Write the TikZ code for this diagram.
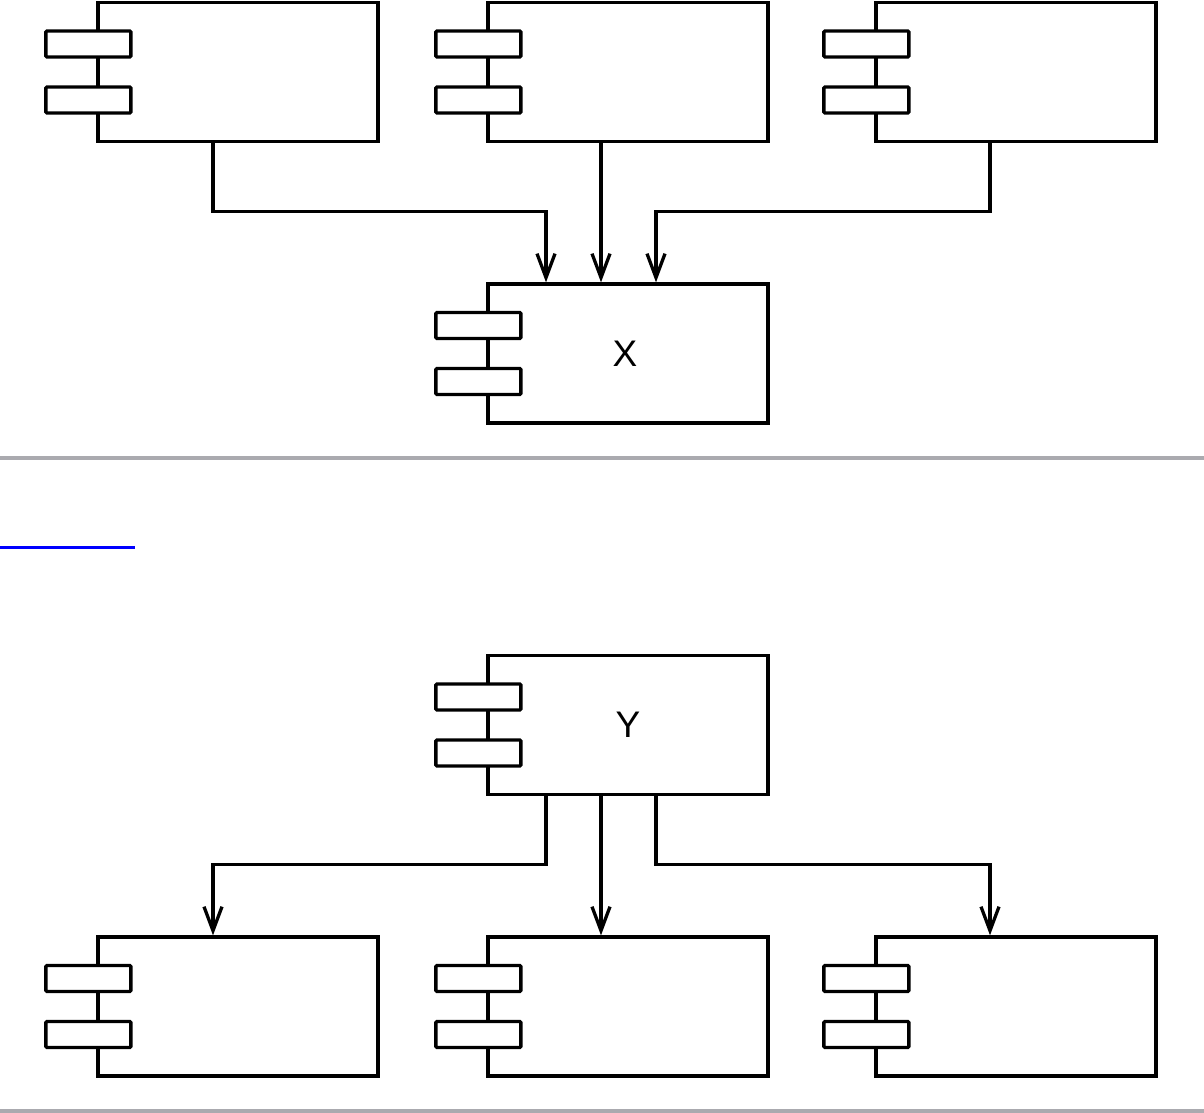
\documentclass[tikz,border=0pt]{standalone}
\usepackage{fontspec}
\setmainfont{Liberation Sans}
\usetikzlibrary{arrows.meta, positioning}

\definecolor{rulegray}{RGB}{170,170,175}

\tikzset{
  comp/.style={draw, line width=3.3pt, minimum width=280pt, minimum height=139pt,
               inner sep=0pt, font=\fontsize{37}{40}\selectfont},
  port/.style={draw, fill=white, line width=3.3pt, rounded corners=1pt,
               minimum width=85pt, minimum height=26pt, inner sep=0pt},
  wire/.style={line width=3.3pt, -{Straight Barb[length=24pt, width=18pt]}},
  sep/.style={line width=4pt, draw=rulegray}
}

\begin{document}
\begin{tikzpicture}[x=1pt, y=-1pt]
    \useasboundingbox (0,0) rectangle (1204,1113);
    % upper part: three into X
    \node[comp] (A) at (238,72) {};
    \node[comp] (B) at (628,72) {};
    \node[comp] (C) at (1016,72) {};
    \node[comp] (X) at (628,353.5) {\hspace*{-6pt}X};
    % lower part: Y into three
    \node[comp] (Y) at (628,725) {Y};
    \node[comp] (D) at (238,1006.5) {};
    \node[comp] (E) at (628,1006.5) {};
    \node[comp] (F) at (1016,1006.5) {};
    \foreach \c in {A,B,C,X,Y,D,E,F} {
        \node[port] at ([xshift=-8pt, yshift=28pt]\c.west) {};
        \node[port] at ([xshift=-8pt, yshift=-28pt]\c.west) {};
    }
    \draw[wire] ([xshift=-25pt]A.south) |- ([xshift=-82pt, yshift=71pt]X.north) -- ([xshift=-82pt]X.north);
    \draw[wire] ([xshift=-27pt]B.south) -- ([xshift=-27pt]X.north);
    \draw[wire] ([xshift=-26pt]C.south) |- ([xshift=28pt, yshift=71pt]X.north) -- ([xshift=28pt]X.north);
    \draw[wire] ([xshift=-82pt]Y.south) |- ([xshift=-25pt, yshift=71pt]D.north) -- ([xshift=-25pt]D.north);
    \draw[wire] ([xshift=-27pt]Y.south) -- ([xshift=-27pt]E.north);
    \draw[wire] ([xshift=28pt]Y.south) |- ([xshift=-26pt, yshift=71pt]F.north) -- ([xshift=-26pt]F.north);
    % separators
    \draw[sep] (0,458) -- (1204,458);
    \draw[sep] (0,1111) -- (1204,1111);
    \draw[blue, line width=3pt] (0,547) -- (135,547);
\end{tikzpicture}
\end{document}
